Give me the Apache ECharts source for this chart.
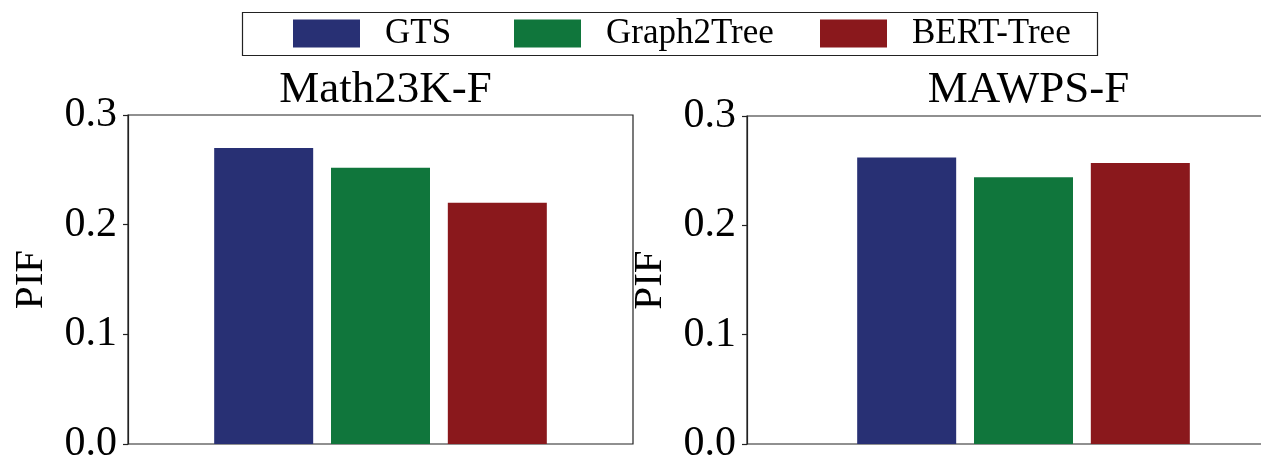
<!DOCTYPE html>
<html>
<head>
<meta charset="utf-8">
<script src="https://cdn.jsdelivr.net/npm/echarts@6/dist/echarts.min.js"></script>
<style>
html,body{margin:0;padding:0;background:#fff;}
#chart{width:1261px;height:462px;}
</style>
</head>
<body>
<div id="chart"></div>
<script>
// ---- data ----
const models = ['GTS', 'Graph2Tree', 'BERT-Tree'];
const panels = ['Math23K-F', 'MAWPS-F'];
const gtsValues = [0.270, 0.262];
const graph2treeValues = [0.252, 0.244];
const bertTreeValues = [0.220, 0.257];
const yTicks = ['0.0', '0.1', '0.2', '0.3'];
const yLabel = 'PIF';

// ---- styling ----
const colors = ['#283074', '#10763c', '#8a181c'];
const FONT = "'Liberation Serif', 'DejaVu Serif', serif";
const seriesValues = [gtsValues, graph2treeValues, bertTreeValues];

const grids = [
  { left: 128, top: 115, width: 505, height: 329 },
  { left: 747, top: 116, width: 553, height: 328 }
];
const titleCenters = [380.5, 1023.5];

const option = {
  animation: false,
  backgroundColor: '#fff',
  color: colors,
  title: panels.map((p, i) => ({
    text: p,
    left: titleCenters[i],
    top: 63,
    textAlign: 'center',
    textStyle: { fontFamily: FONT, fontSize: 45, fontWeight: 'normal', color: '#000' }
  })),
  legend: models.map((m, i) => ({
    data: [m],
    left: [288, 509, 815][i],
    top: 11,
    icon: 'rect',
    itemWidth: 67,
    itemHeight: 28,
    selectedMode: false,
    textStyle: { fontFamily: FONT, fontSize: 35, color: '#000', padding: [0, 0, 0, 20] }
  })),
  graphic: [{
    type: 'rect',
    shape: { x: 242.5, y: 12.5, width: 855, height: 43 },
    style: { fill: 'none', stroke: '#222', lineWidth: 1.2 },
    silent: true
  }],
  grid: grids.map(g => Object.assign({
    show: true, borderColor: '#222', borderWidth: 1.2, backgroundColor: 'transparent',
    containLabel: false, outerBoundsMode: 'none'
  }, g)),
  xAxis: panels.map((p, i) => ({
    type: 'category',
    gridIndex: i,
    data: [p],
    axisLine: { show: false },
    axisTick: { show: false },
    axisLabel: { show: false },
    splitLine: { show: false }
  })),
  yAxis: panels.map((p, i) => ({
    type: 'value',
    gridIndex: i,
    min: 0,
    max: 0.3,
    interval: 0.1,
    name: yLabel,
    nameLocation: 'middle',
    nameRotate: 90,
    nameGap: 76,
    nameTextStyle: { fontFamily: FONT, fontSize: 41, color: '#000' },
    axisLine: { show: true, lineStyle: { color: '#222', width: 1.2 } },
    axisTick: { show: true, inside: false, length: 5, lineStyle: { color: '#222', width: 1.2 } },
    axisLabel: {
      fontFamily: FONT, fontSize: 42, color: '#000', margin: 11,
      formatter: v => yTicks[Math.round(v * 10)]
    },
    splitLine: { show: false }
  })),
  series: []
};

panels.forEach((p, pi) => {
  models.forEach((m, mi) => {
    option.series.push({
      name: m,
      type: 'bar',
      xAxisIndex: pi,
      yAxisIndex: pi,
      barWidth: 99,
      barGap: '18%',
      itemStyle: { color: colors[mi] },
      data: [seriesValues[mi][pi]]
    });
  });
});

const chart = echarts.init(document.getElementById('chart'), null, { renderer: 'canvas' });
chart.setOption(option);
</script>
</body>
</html>
